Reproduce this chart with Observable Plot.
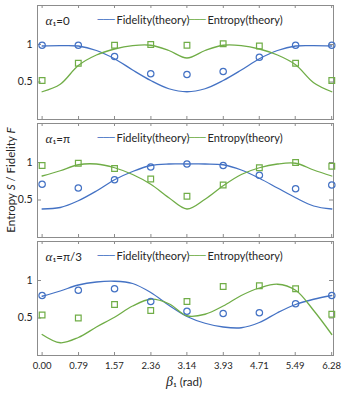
<!DOCTYPE html>
<html>
<head>
<meta charset="utf-8">
<script src="https://cdn.jsdelivr.net/npm/d3@7"></script>
<script src="https://cdn.jsdelivr.net/npm/@observablehq/plot@0.6"></script>
<style>
  html, body { margin: 0; padding: 0; background: #fff; }
  #chart { width: 349px; height: 396px; }
</style>
</head>
<body>
<div id="chart"></div>
<script>
// ---- data ----
const panels = ["α1=0", "α1=π", "α1=π/3"];
const panelLabels = ["₁=0", "₁=π", "₁=π/3"];
const xTickLabels = ["0.00", "0.79", "1.57", "2.36", "3.14", "3.93", "4.71", "5.49", "6.28"];
const yTicks = [0.5, 1];

// measured beta values (9 points)
const betaPoints = [0, 0.785, 1.571, 2.356, 3.142, 3.927, 4.712, 5.498, 6.283];
// theory curve sample positions (17 points)
const betaTheory = [0, 0.393, 0.785, 1.178, 1.571, 1.963, 2.356, 2.749, 3.142,
                    3.534, 3.927, 4.320, 4.712, 5.105, 5.498, 5.890, 6.283];

// panel 1: alpha1 = 0
const fidPts0 = [0.99, 0.99, 0.84, 0.61, 0.60, 0.64, 0.83, 0.99, 0.99];
const entPts0 = [0.52, 0.75, 0.99, 1.00, 0.99, 1.01, 0.98, 0.75, 0.52];
const fidTh0  = [0.98, 0.985, 0.98, 0.92, 0.81, 0.66, 0.52, 0.41, 0.37, 0.41, 0.52, 0.66, 0.81, 0.92, 0.98, 0.985, 0.98];
const entTh0  = [0.37, 0.47, 0.72, 0.86, 0.94, 0.985, 0.99, 0.92, 0.82, 0.92, 0.99, 0.985, 0.94, 0.86, 0.73, 0.49, 0.37];

// panel 2: alpha1 = pi
const fidPts1 = [0.71, 0.66, 0.77, 0.94, 0.98, 0.96, 0.83, 0.65, 0.70];
const entPts1 = [0.96, 0.99, 0.92, 0.78, 0.55, 0.70, 0.93, 1.00, 0.95];
const fidTh1  = [0.38, 0.40, 0.49, 0.62, 0.77, 0.88, 0.96, 0.98, 0.98, 0.98, 0.97, 0.90, 0.79, 0.66, 0.53, 0.42, 0.38];
const entTh1  = [0.82, 0.89, 0.97, 0.98, 0.93, 0.84, 0.71, 0.53, 0.38, 0.51, 0.69, 0.84, 0.93, 0.98, 0.99, 0.90, 0.82];

// panel 3: alpha1 = pi/3
const fidPts2 = [0.80, 0.87, 0.89, 0.72, 0.59, 0.56, 0.57, 0.69, 0.80];
const entPts2 = [0.54, 0.50, 0.68, 0.60, 0.72, 0.92, 0.93, 0.89, 0.55];
const fidTh2  = [0.79, 0.86, 0.94, 0.98, 0.99, 0.96, 0.84, 0.67, 0.52, 0.43, 0.38, 0.37, 0.44, 0.57, 0.68, 0.75, 0.80];
const entTh2  = [0.28, 0.17, 0.24, 0.38, 0.51, 0.66, 0.75, 0.69, 0.53, 0.55, 0.66, 0.80, 0.90, 0.95, 0.87, 0.60, 0.28];

const seriesNames = ["Fidelity", "Entropy"];
const colors = ["#4472C4", "#70AD47"];

// ---- build tables ----
const fidPts = [fidPts0, fidPts1, fidPts2];
const entPts = [entPts0, entPts1, entPts2];
const fidTh = [fidTh0, fidTh1, fidTh2];
const entTh = [entTh0, entTh1, entTh2];

const pointRows = [];
const theoryRows = [];
panels.forEach((p, i) => {
  betaPoints.forEach((b, j) => {
    pointRows.push({panel: p, beta: b, value: fidPts[i][j], series: "Fidelity"});
    pointRows.push({panel: p, beta: b, value: entPts[i][j], series: "Entropy"});
  });
  betaTheory.forEach((b, j) => {
    theoryRows.push({panel: p, beta: b, value: fidTh[i][j], series: "Fidelity"});
    theoryRows.push({panel: p, beta: b, value: entTh[i][j], series: "Entropy"});
  });
});
const labelRows = panels.map((p, i) => ({panel: p, sub: panelLabels[i]}));
const xTicks = xTickLabels.map(Number);

const font = "Lato, 'Open Sans', sans-serif";
const txt = "#262626";

const chart = Plot.plot({
  width: 349,
  height: 396,
  marginLeft: 37,
  marginRight: 16,
  marginTop: 4,
  marginBottom: 40,
  style: {fontFamily: font, fontSize: "10.5px", color: txt, background: "#fff"},
  x: {domain: [-0.1, 6.32]},
  y: {domain: [0, 1.52]},
  fy: {domain: panels, paddingInner: 0.03, paddingOuter: 0, axis: null},
  color: {domain: seriesNames, range: colors},
  marks: [
    Plot.frame({stroke: "#8c8c8c", strokeWidth: 1}),
    // inward tick marks
    Plot.tickX(xTicks, {x: d => d, insetTop: 111, stroke: "#8c8c8c"}),
    Plot.tickX(xTicks, {x: d => d, insetBottom: 111, stroke: "#8c8c8c"}),
    Plot.tickY(yTicks, {y: d => d, insetRight: 292, stroke: "#8c8c8c"}),
    Plot.tickY(yTicks, {y: d => d, insetLeft: 292, stroke: "#8c8c8c"}),
    Plot.axisY({ticks: yTicks, tickSize: 0, tickPadding: 5, label: null, fontSize: 10.5, tickFormat: d => String(d)}),
    Plot.axisX({ticks: xTicks, tickSize: 0, tickPadding: 7, label: null, fontSize: 9.5, tickFormat: d3.format(".2f")}),
    Plot.line(theoryRows, {x: "beta", y: "value", z: "series", stroke: "series", fy: "panel", curve: "catmull-rom", strokeWidth: 1.3}),
    Plot.dot(pointRows, {x: "beta", y: "value", fy: "panel", stroke: "series",
      symbol: d => d.series === "Fidelity" ? "circle" : "square", r: 3.2, strokeWidth: 1.2}),
    // in-panel labels and legend
    Plot.text(labelRows, {fy: "panel", text: () => "α", frameAnchor: "top-left", dx: 8, dy: 10,
      fontFamily: "'Liberation Serif', serif", fontStyle: "italic", fontSize: 13, fill: txt, textAnchor: "start"}),
    Plot.text(labelRows, {fy: "panel", text: "sub", frameAnchor: "top-left", dx: 15, dy: 11,
      fontSize: 11.5, fill: txt, textAnchor: "start"}),
    Plot.text(labelRows, {fy: "panel", text: () => "───", frameAnchor: "top-left", dx: 60, dy: 11,
      fontFamily: "'DejaVu Sans'", fontSize: 9.5, fill: colors[0], textAnchor: "start"}),
    Plot.text(labelRows, {fy: "panel", text: () => "Fidelity(theory)", frameAnchor: "top-left", dx: 79, dy: 11,
      fontSize: 11, fill: txt, textAnchor: "start"}),
    Plot.text(labelRows, {fy: "panel", text: () => "───", frameAnchor: "top-left", dx: 151, dy: 11,
      fontFamily: "'DejaVu Sans'", fontSize: 9.5, fill: colors[1], textAnchor: "start"}),
    Plot.text(labelRows, {fy: "panel", text: () => "Entropy(theory)", frameAnchor: "top-left", dx: 170, dy: 11,
      fontSize: 11, fill: txt, textAnchor: "start"})
  ]
});

document.getElementById("chart").appendChild(chart);

// axis titles with italic symbols
const svg = d3.select(chart);
const yl = svg.append("text")
  .attr("transform", "translate(15,180) rotate(-90)")
  .attr("text-anchor", "middle")
  .attr("fill", txt)
  .style("font-family", font)
  .style("font-size", "11.5px");
yl.append("tspan").text("Entropy ");
yl.append("tspan").style("font-style", "italic").text("S");
yl.append("tspan").text(" / Fidelity ");
yl.append("tspan").style("font-style", "italic").text("F");

const xl = svg.append("text")
  .attr("x", 184).attr("y", 386)
  .attr("text-anchor", "middle")
  .attr("fill", txt)
  .style("font-family", font)
  .style("font-size", "11.5px");
xl.append("tspan").style("font-family", "'Liberation Serif', serif").style("font-style", "italic").style("font-size", "14px").text("β");
xl.append("tspan").text("₁ (rad)");
</script>
</body>
</html>
